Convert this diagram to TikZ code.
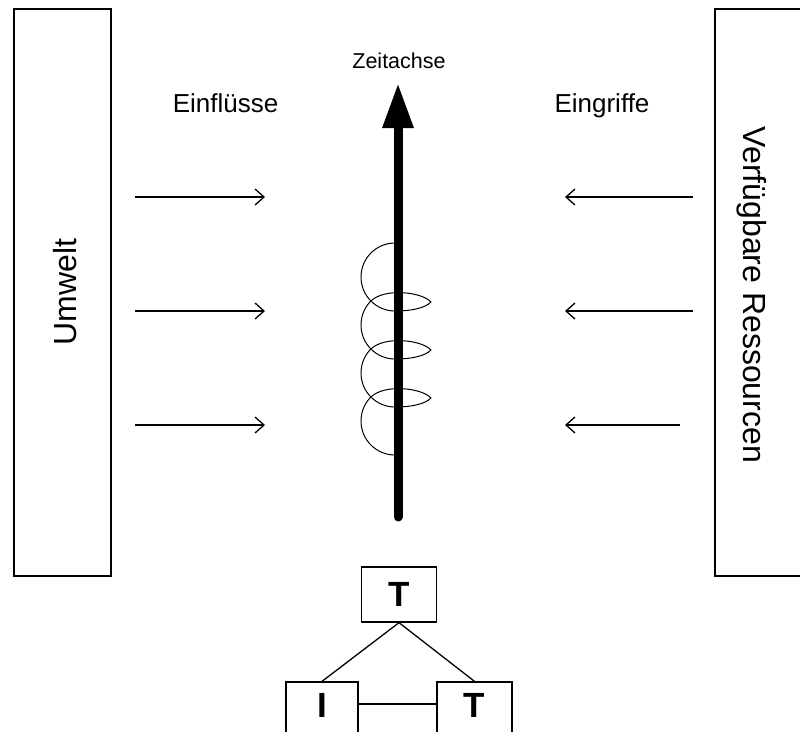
\documentclass[tikz,border=0pt]{standalone}
\usepackage{fontspec}
\setmainfont{Liberation Sans}
\usetikzlibrary{arrows.meta}
\begin{document}
\begin{tikzpicture}[x=1pt,y=-1pt,
  frame/.style={draw, line width=1.6pt},
  lbl/.style={font=\fontsize{26}{30}\selectfont, anchor=base, inner sep=0pt},
  vlbl/.style={font=\fontsize{32}{38}\selectfont, inner sep=0pt},
  flow/.style={line width=1.3pt, -{Straight Barb[length=9pt,width=16pt]}},
  coil/.style={line width=1pt},
  tbox/.style={draw, line width=1.3pt, minimum width=75pt, minimum height=55pt, inner sep=0pt, font=\fontsize{35}{40}\selectfont\bfseries},
  link/.style={line width=1.3pt}]
\useasboundingbox (0,0) rectangle (800,731);
\clip (0,0) rectangle (800,731);

% side boxes
\draw[frame] (14,9) rectangle (111,576);
\draw[frame] (715,9) rectangle (815,576);
\node[vlbl, rotate=90] (umwelt) at (65,292) {Umwelt};
\node[vlbl, rotate=-90] (res) at (752,295) {Verfügbare Ressourcen};

% labels
\node[lbl] (einf) at (225.5,112) {Einflüsse};
\node[lbl] (eing) at (602,112) {Eingriffe};
\node[font=\fontsize{21.5}{25}\selectfont, anchor=base, inner sep=0pt] (zeit) at (399,68) {Zeitachse};

% horizontal arrows
\foreach \i/\y/\s in {1/197/693, 2/311/693, 3/425/680}{
  \coordinate (la\i) at (135,\y);
  \coordinate (lb\i) at (265,\y);
  \coordinate (ra\i) at (\s,\y);
  \coordinate (rb\i) at (565,\y);
  \draw[flow] (la\i) -- (lb\i);
  \draw[flow] (ra\i) -- (rb\i);
}

% coil
\draw[coil] (395,243) .. controls (376.2,243) and (361,258.2) .. (361,277)
  .. controls (361,295.8) and (376.2,311) .. (395,311)
  foreach \d in {0,48,96} {
    .. controls (412,311+\d) and (425,308+\d) .. (431,302+\d)
    .. controls (422,292+\d) and (383.7,287.2+\d) .. (370.1,301.8+\d)
    .. controls (364.2,308.1+\d) and (361,316.4+\d) .. (361,325+\d)
    .. controls (361,343.8+\d) and (376.2,359+\d) .. (395,359+\d)
  };

% time axis
\coordinate (tbot) at (398,517);
\coordinate (ttop) at (398,83);
\draw[line width=9pt, line cap=round, -{Triangle[width=29pt,length=45pt]}] (tbot) -- (ttop);

% tree
\node[tbox] (top) at (399,594.5) {T};
\node[tbox, minimum width=72pt] (ileaf) at (322,709.5) {};
\node[tbox] (tleaf) at (474.5,709.5) {};
\node[font=\fontsize{35}{40}\selectfont\bfseries, inner sep=0pt] (ilabel) at (322,705.5) {I};
\node[font=\fontsize{35}{40}\selectfont\bfseries, inner sep=0pt] (tlabel) at (474.5,705.5) {T};
\draw[link] (top.south) -- (ileaf.north);
\draw[link] (top.south) -- (tleaf.north);
\draw[link] ([yshift=5.5pt]ileaf.east) -- ([yshift=5.5pt]tleaf.west);
\end{tikzpicture}
\end{document}
